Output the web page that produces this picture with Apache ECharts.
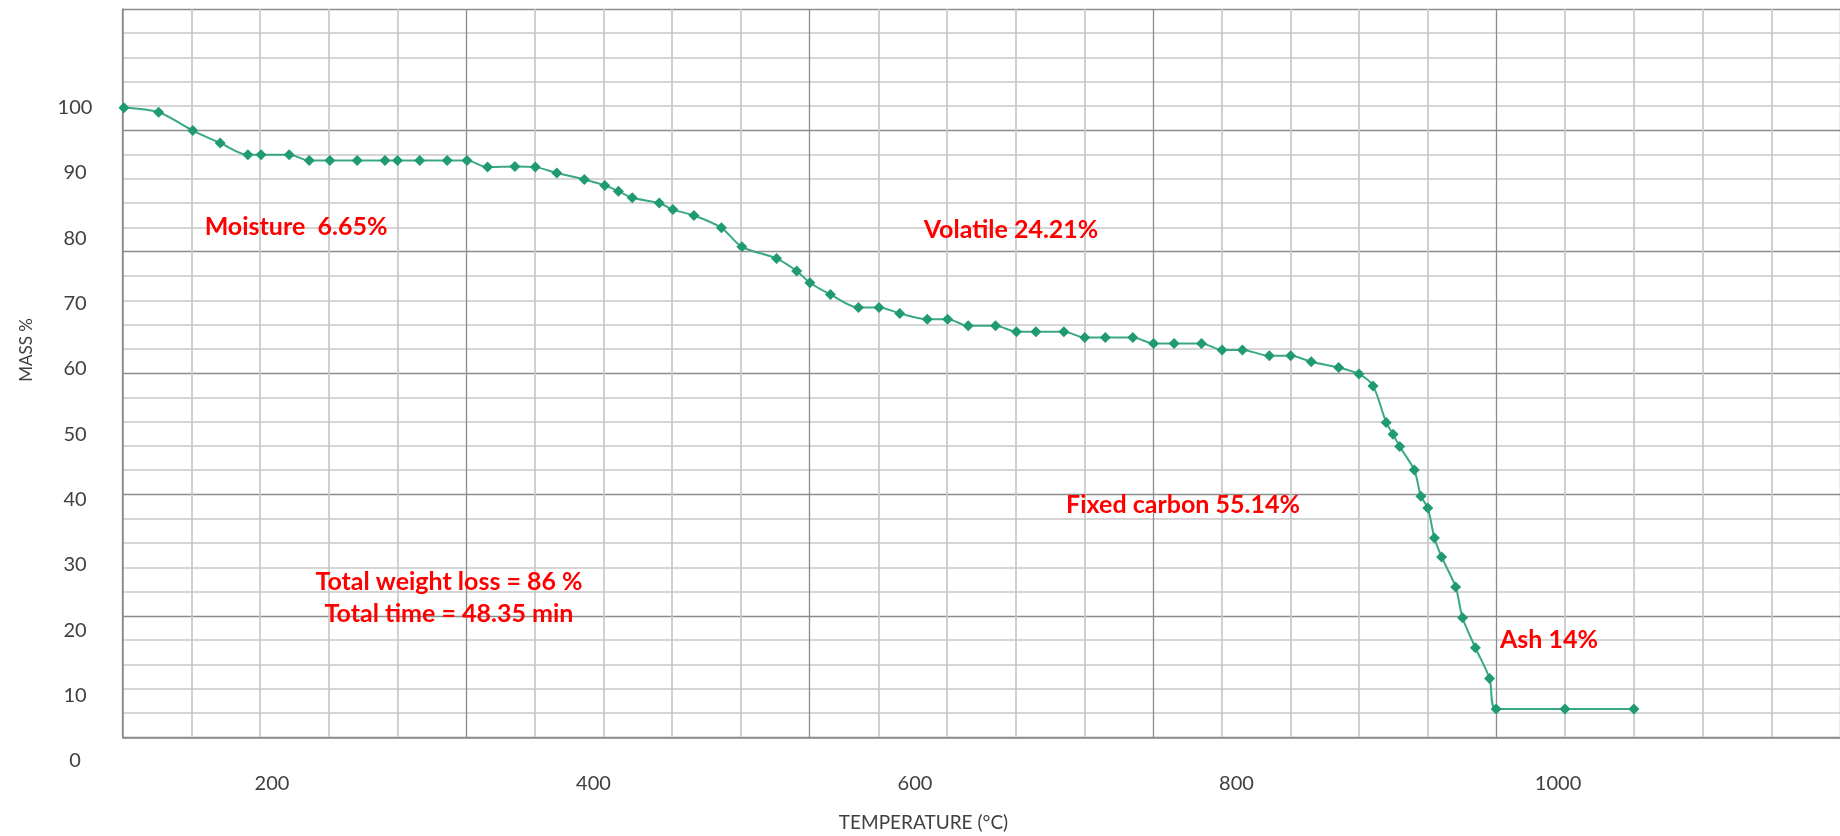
<!DOCTYPE html>
<html>
<head>
<meta charset="utf-8">
<script src="https://cdn.jsdelivr.net/npm/echarts@6/dist/echarts.min.js"></script>
<style>
html,body{margin:0;padding:0;background:#fff;}
#chart{width:1840px;height:836px;}
</style>
</head>
<body>
<div id="chart"></div>
<script>
// ---- data ----
var temperature = [107.9, 129.5, 150.7, 167.8, 185.0, 193.2, 210.7, 223.2, 236.0, 253.0,
  270.3, 278.1, 291.9, 309.0, 321.3, 334.1, 351.1, 363.8, 377.2, 394.3,
  407.0, 415.5, 424.1, 440.9, 449.4, 462.5, 479.6, 492.3, 513.9, 526.4,
  534.6, 547.4, 564.8, 577.6, 590.5, 607.6, 620.3, 633.1, 650.1, 663.1,
  675.2, 692.6, 705.6, 718.4, 735.5, 748.4, 761.2, 778.2, 791.0, 803.7,
  820.4, 833.7, 846.5, 863.5, 876.2, 884.9, 893.1, 897.4, 901.5, 910.6,
  914.7, 919.0, 923.1, 927.6, 936.3, 940.6, 948.6, 957.4, 961.5, 1004.3, 1047.2];
var mass = [100, 99.3, 96.5, 94.6, 92.8, 92.8, 92.8, 91.9, 91.9, 91.9,
  91.9, 91.9, 91.9, 91.9, 91.9, 90.9, 91.0, 90.9, 90.0, 89.0,
  88.1, 87.2, 86.2, 85.4, 84.4, 83.5, 81.6, 78.7, 76.9, 75.0,
  73.2, 71.4, 69.4, 69.4, 68.5, 67.6, 67.6, 66.6, 66.6, 65.7,
  65.7, 65.7, 64.8, 64.8, 64.8, 63.9, 63.9, 63.9, 62.9, 62.9,
  62.0, 62.0, 61.1, 60.2, 59.2, 57.4, 51.8, 50.0, 48.1, 44.5,
  40.5, 38.7, 34.1, 31.2, 26.6, 21.9, 17.3, 12.6, 7.9, 7.9, 7.9];
var xTicks = [200, 400, 600, 800, 1000];
var yTickStep = 10;
var annotations = [
  {text: 'Moisture  6.65%', x: 296, y: 227},
  {text: 'Volatile 24.21%', x: 1011, y: 230},
  {text: 'Fixed carbon 55.14%', x: 1183, y: 505},
  {text: 'Total weight loss = 86 %', x: 449, y: 582},
  {text: 'Total time = 48.35 min', x: 449, y: 614},
  {text: 'Ash 14%', x: 1549, y: 640}
];
var xTitle = 'TEMPERATURE (°C)';
var yTitle = 'MASS %';

// ---- chart ----
var points = temperature.map(function (t, i) { return [t, mass[i]]; });
var chart = echarts.init(document.getElementById('chart'), null, {renderer: 'canvas'});
var labelFont = 'Lato, "Noto Sans", sans-serif';
var graphics = annotations.map(function (a) {
  return {
    type: 'text', x: a.x, y: a.y, z: 100,
    style: {text: a.text, fill: '#ff0000', font: 'bold 25px ' + labelFont,
      textAlign: 'center', textVerticalAlign: 'middle'}
  };
});
graphics.push({type: 'text', x: 923.5, y: 823, z: 100,
  style: {text: xTitle, fill: '#404040', font: '19px ' + labelFont, textAlign: 'center', textVerticalAlign: 'middle'}});
graphics.push({type: 'text', x: 27, y: 350, rotation: Math.PI / 2, z: 100,
  style: {text: yTitle, fill: '#404040', font: '17px ' + labelFont, textAlign: 'center', textVerticalAlign: 'middle'}});

var option = {
  backgroundColor: '#ffffff',
  animation: false,
  grid: [
    // frame with gridlines
    {left: 122.7, top: 8.9, width: 1732.5, height: 728.4, containLabel: false},
    // data area
    {left: 122.7, top: 107.7, width: 1732.5, height: 653, containLabel: false}
  ],
  xAxis: [
    {gridIndex: 0, type: 'value', min: 0, max: 25, interval: 5,
      axisLine: {show: true, lineStyle: {color: '#8a8a8a', width: 1.5}},
      axisTick: {show: false}, axisLabel: {show: false},
      splitLine: {show: true, lineStyle: {color: '#8c8c8c', width: 1.3}},
      minorTick: {show: false, splitNumber: 5},
      minorSplitLine: {show: true, lineStyle: {color: '#c8c8c8', width: 1.7}}},
    {gridIndex: 1, type: 'value', min: 107.14, max: 1175.4,
      axisLine: {show: false}, axisTick: {show: false}, splitLine: {show: false},
      axisLabel: {show: true, customValues: xTicks, margin: 13, color: '#404040',
        fontSize: 20, fontFamily: labelFont,
        formatter: function (v) { return String(v); }}}
  ],
  yAxis: [
    {gridIndex: 0, type: 'value', min: 0, max: 30, interval: 5,
      axisLine: {show: true, lineStyle: {color: '#8a8a8a', width: 1.5}},
      axisTick: {show: false}, axisLabel: {show: false},
      splitLine: {show: true, lineStyle: {color: '#8c8c8c', width: 1.3}},
      minorTick: {show: false, splitNumber: 5},
      minorSplitLine: {show: true, lineStyle: {color: '#c8c8c8', width: 1.7}}},
    {gridIndex: 1, type: 'value', min: 0, max: 100, interval: yTickStep,
      axisLine: {show: false}, axisTick: {show: false}, splitLine: {show: false},
      axisLabel: {show: true, align: 'center', margin: 47.7, color: '#404040',
        fontSize: 20, fontFamily: labelFont,
        formatter: function (v) { return String(v); }}}
  ],
  series: [{
    type: 'line', xAxisIndex: 1, yAxisIndex: 1, data: points,
    smooth: 0.3, clip: false, z: 10,
    symbol: 'diamond', symbolSize: 11,
    lineStyle: {color: '#3aa886', width: 2},
    itemStyle: {color: '#1f9a72'}
  }],
  graphic: graphics
};
chart.setOption(option);
</script>
</body>
</html>
